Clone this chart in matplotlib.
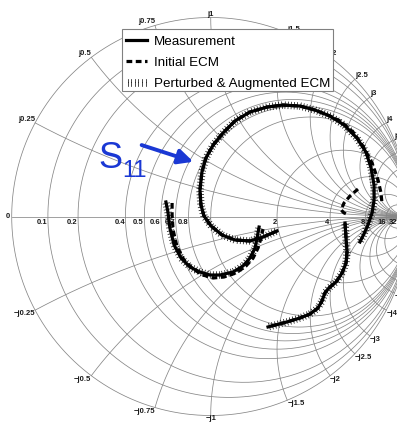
import numpy as np
import matplotlib.pyplot as plt
from matplotlib import patheffects as pe

plt.rcParams['font.family'] = ['Liberation Sans', 'DejaVu Sans']

# Smith chart grid
r_circles = [0.1, 0.2, 0.4, 0.5, 0.6, 0.7, 0.8, 1, 2, 4, 8, 16, 32]
r_labels = ['0.1', '0.2', '0.4', '0.5', '0.6', '0.7', '0.8', '1', '2', '4', '8', '16', '32']
x_arcs = [0.25, 0.5, 0.75, 1, 1.5, 2, 2.5, 3, 4, 5, 6, 8, 16, 32]
x_labels = ['0.25', '0.5', '0.75', '1', '1.5', '2', '2.5', '3', '4', '5']

# S11 traces as reflection coefficient (re, im)
meas_a_re = [-0.225, -0.215, -0.205, -0.184, -0.149, -0.104, -0.054, -0.004, 0.047, 0.112, 0.162, 0.197, 0.223, 0.233, 0.243]
meas_a_im = [0.073, 0.023, -0.058, -0.143, -0.209, -0.254, -0.279, -0.294, -0.294, -0.279, -0.249, -0.209, -0.158, -0.108, -0.053]

meas_b_re = [0.333, 0.263, 0.197, 0.122, 0.057, 0.002, -0.034, -0.049, -0.054, -0.044, -0.024, 0.012, 0.062, 0.122, 0.197,
             0.283, 0.363, 0.449, 0.524, 0.599, 0.670, 0.735, 0.780, 0.806, 0.821, 0.821, 0.811, 0.790, 0.770, 0.750]
meas_b_im = [-0.073, -0.103, -0.123, -0.118, -0.093, -0.048, 0.003, 0.058, 0.133, 0.224, 0.294, 0.359, 0.420, 0.480, 0.525,
             0.550, 0.560, 0.555, 0.535, 0.505, 0.460, 0.394, 0.324, 0.244, 0.158, 0.083, 0.018, -0.043, -0.088, -0.128]

meas_c_re = [0.675, 0.680, 0.685, 0.680, 0.660, 0.630, 0.594, 0.574, 0.559, 0.539, 0.499, 0.449, 0.383, 0.288]
meas_c_im = [-0.033, -0.108, -0.178, -0.234, -0.284, -0.329, -0.359, -0.384, -0.425, -0.460, -0.490, -0.510, -0.530, -0.555]

ecm_a_re = [-0.194, -0.194, -0.189, -0.169, -0.134, -0.089, -0.039, 0.012, 0.067, 0.127, 0.177, 0.213, 0.238, 0.253, 0.263]
ecm_a_im = [0.068, 0.008, -0.068, -0.153, -0.219, -0.264, -0.294, -0.309, -0.304, -0.284, -0.249, -0.209, -0.158, -0.108, -0.063]

ecm_b_re = [0.333, 0.263, 0.197, 0.122, 0.057, 0.002, -0.034, -0.049, -0.054, -0.044, -0.024, 0.012, 0.062, 0.122,
            0.197, 0.283, 0.363, 0.449, 0.524, 0.599, 0.650, 0.715, 0.765, 0.811, 0.841, 0.856, 0.861]
ecm_b_im = [-0.073, -0.103, -0.123, -0.118, -0.093, -0.048, 0.003, 0.058, 0.133, 0.224, 0.294, 0.359, 0.420, 0.480,
            0.525, 0.550, 0.560, 0.555, 0.535, 0.505, 0.480, 0.425, 0.354, 0.269, 0.183, 0.118, 0.063]

ecm_hook_re = [0.740, 0.700, 0.670, 0.655, 0.670, 0.695]
ecm_hook_im = [0.138, 0.103, 0.068, 0.033, 0.018, 0.008]

ecm_c_re = meas_c_re
ecm_c_im = meas_c_im

# perturbed & augmented model lies on the measured trace
pert_segments = [(meas_a_re, meas_a_im), (meas_b_re, meas_b_im), (meas_c_re, meas_c_im)]

W, H = 397, 424
fig = plt.figure(figsize=(W / 100, H / 100), dpi=100)
ax = fig.add_axes([0, 0, 1, 1])
R = 199.0
ax.set_xlim(-210.7 / R, (W - 210.7) / R)
ax.set_ylim((216.5 - H) / R, 216.5 / R)
ax.axis('off')

gcol = '#868686'
glw = 0.55
th = np.linspace(0, 2 * np.pi, 600)
ax.plot(np.cos(th), np.sin(th), color=gcol, lw=glw, zorder=1)
ax.plot([-1, 1], [0, 0], color=gcol, lw=glw, zorder=1)
for r in r_circles:
    c = r / (1 + r)
    rad = 1 / (1 + r)
    ax.plot(c + rad * np.cos(th), rad * np.sin(th), color=gcol, lw=glw, zorder=1)

t = np.concatenate([np.linspace(0, 1, 200), np.logspace(0, 4, 300)])
for x in x_arcs:
    for s in (1, -1):
        z = t + 1j * s * x
        g = (z - 1) / (z + 1)
        ax.plot(g.real, g.imag, color=gcol, lw=glw, zorder=1)

lab = dict(fontsize=5.5, fontweight='bold', color='#1a1a1a', zorder=2)
ax.text(-1 - 1.5 / R, 0, '0', ha='right', va='center', **lab)
for r, s in zip(r_circles, r_labels):
    ax.text((r - 1) / (r + 1) - 0.5 / R, -2.5 / R, s, ha='right', va='top', **lab)
for x, s in zip(x_arcs, x_labels):
    gx = (x * x - 1) / (x * x + 1)
    gy = 2 * x / (x * x + 1)
    ha = 'right' if x < 1 else ('center' if x == 1 else 'left')
    ax.text(gx, gy, 'j' + s, ha=ha, va='bottom', **lab)
    ax.text(gx, -gy, '\u2212j' + s, ha=ha, va='top', **lab)

# traces
ax.plot(meas_a_re, meas_a_im, color='k', lw=2.3, zorder=3, label='Measurement')
ax.plot(meas_b_re, meas_b_im, color='k', lw=2.3, zorder=3)
ax.plot(meas_c_re, meas_c_im, color='k', lw=2.3, zorder=3)

dash = dict(color='k', lw=2.3, dashes=(1.8, 1.1), zorder=4)
ax.plot(ecm_a_re, ecm_a_im, label='Initial ECM', **dash)
ax.plot(ecm_b_re, ecm_b_im, **dash)
ax.plot(ecm_hook_re, ecm_hook_im, **dash)
ax.plot(ecm_c_re, ecm_c_im, **dash)

ticks = [pe.TickedStroke(spacing=2.2, angle=90, length=1.1),
         pe.TickedStroke(spacing=2.2, angle=-90, length=1.1)]
for i, (xr, yi) in enumerate(pert_segments):
    ax.plot(xr, yi, color='k', lw=0.5, path_effects=ticks, zorder=5,
            label='Perturbed & Augmented ECM' if i == 0 else None)

# S11 annotation
blue = '#1a38d4'
ax.text(-0.565, 0.244, 'S', fontsize=26, color=blue, ha='left', va='baseline', zorder=6)
ax.text(-0.444, 0.198, '11', fontsize=17, color=blue, ha='left', va='baseline', zorder=6)
ax.annotate('', xy=(-0.087, 0.275), xytext=(-0.347, 0.359),
            arrowprops=dict(arrowstyle='-|>,head_length=0.45,head_width=0.22', lw=2.8,
                            color=blue, shrinkA=0, shrinkB=0, mutation_scale=20), zorder=6)

# legend box drawn separately so the row pitch and padding can match
box = plt.Rectangle((122 / W, 1 - 91 / H), 211 / W, 62 / H, transform=fig.transFigure,
                    facecolor='white', edgecolor='#808080', lw=0.8, zorder=9, clip_on=False)
ax.add_patch(box)
leg = ax.legend(loc='upper left', bbox_to_anchor=(122 / W, 1 - 31.5 / H), bbox_transform=fig.transFigure,
                fontsize=9.6, frameon=False, borderpad=0.3,
                handlelength=1.6, handletextpad=0.5, labelspacing=0.66, borderaxespad=0)
leg.set_zorder(10)

fig.savefig('out.png', dpi=100)
